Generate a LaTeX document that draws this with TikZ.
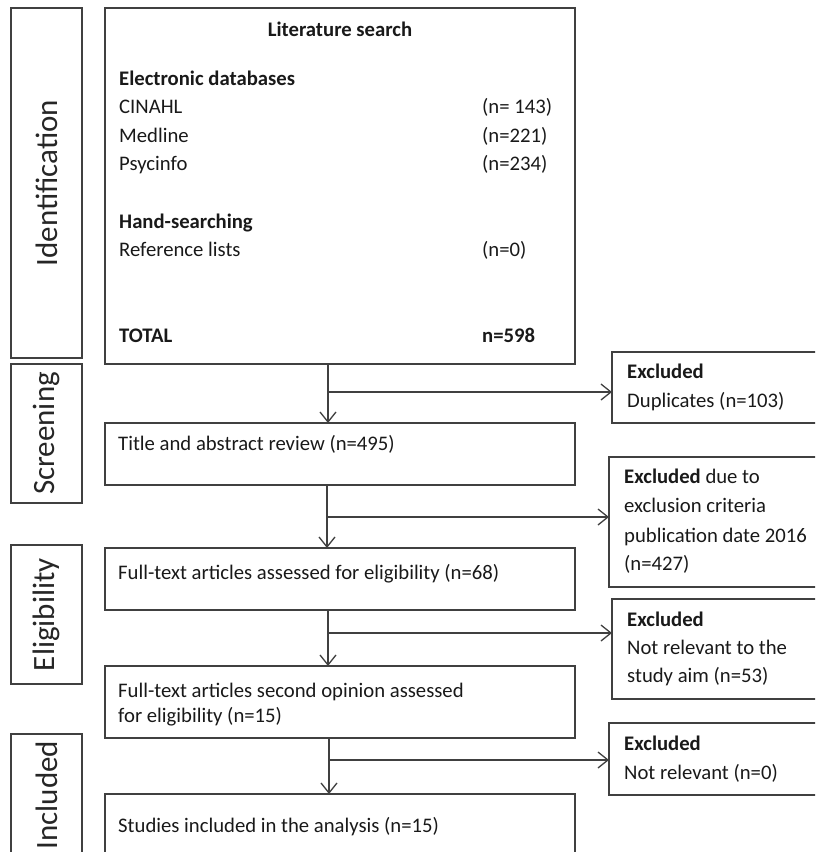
\documentclass[tikz,border=0pt]{standalone}
\usepackage{fontspec}
\setmainfont{Carlito}
\usetikzlibrary{arrows.meta}
\begin{document}
\begin{tikzpicture}[x=1pt,y=-1pt,
  box/.style={draw=black!75, line width=1.3pt, rectangle, inner sep=0pt, outer sep=0pt, anchor=north west},
  sidelabel/.style={rotate=90, inner sep=0pt, font=\fontsize{31}{36}\selectfont, text=black!85},
  txt/.style={anchor=base west, inner sep=0pt, font=\fontsize{20.7}{28}\selectfont, text=black!90},
  arr/.style={draw=black!75, line width=1.3pt, -{Straight Barb[length=10pt,width=16pt,line width=1.3pt]}}]
\useasboundingbox (0,0) rectangle (815,852);
\clip (0,0) rectangle (815,852);
% side boxes
\node[box, minimum width=71pt, minimum height=350pt] (ident) at (11,8) {};
\node[box, minimum width=71pt, minimum height=139pt] (screen) at (11,364) {};
\node[box, minimum width=71pt, minimum height=139pt] (elig) at (11,545) {};
\node[box, minimum width=71pt, minimum height=140pt] (incl) at (11,734) {};
\node[sidelabel] (identl) at (ident.center) {Identification};
\node[sidelabel] (screenl) at (screen.center) {Screening};
\node[sidelabel] (eligl) at (elig.center) {Eligibility};
\node[sidelabel] (incll) at (46.5,795) {Included};
% main boxes
\node[box, minimum width=470pt, minimum height=356pt] (lit) at (105,8) {};
\node[box, minimum width=470pt, minimum height=62pt] (title) at (105,423) {};
\node[box, minimum width=470pt, minimum height=62pt] (full) at (105,548) {};
\node[box, minimum width=470pt, minimum height=72pt] (second) at (105,666) {};
\node[box, minimum width=470pt, minimum height=80pt] (studies) at (105,794) {};
% excluded boxes
\node[box, minimum width=220pt, minimum height=71pt] (ex1) at (612,352) {};
\node[box, minimum width=220pt, minimum height=130pt] (ex2) at (609,457) {};
\node[box, minimum width=220pt, minimum height=100pt] (ex3) at (612,599) {};
\node[box, minimum width=220pt, minimum height=72pt] (ex4) at (609,723) {};
% literature text
\node[txt, anchor=base] (t0) at (340,36) {\textbf{Literature search}};
\node[txt] (t1) at (119,85) {\textbf{Electronic databases}};
\node[txt] (t2) at (119,113) {CINAHL};
\node[txt] (n2) at (482,113) {(n= 143)};
\node[txt] (t3) at (119,142) {Medline};
\node[txt] (n3) at (482,142) {(n=221)};
\node[txt] (t4) at (119,170) {Psycinfo};
\node[txt] (n4) at (482,170) {(n=234)};
\node[txt] (t5) at (119,228) {\textbf{Hand-searching}};
\node[txt] (t6) at (119,256) {Reference lists};
\node[txt] (n6) at (482,256) {(n=0)};
\node[txt] (t7) at (119,342) {\textbf{TOTAL}};
\node[txt] (n7) at (482,342) {\textbf{n=598}};
% main texts
\node[txt] (tt) at (118,450) {Title and abstract review (n=495)};
\node[txt] (tf) at (118,579) {Full-text articles assessed for eligibility (n=68)};
\node[txt] (ts1) at (118,697) {Full-text articles second opinion assessed};
\node[txt] (ts2) at (118,722) {for eligibility (n=15)};
\node[txt] (tst) at (118,832) {Studies included in the analysis (n=15)};
% excluded texts
\node[txt] (e1a) at (627,378) {\textbf{Excluded}};
\node[txt] (e1b) at (627,407) {Duplicates (n=103)};
\node[txt] (e2a) at (624,483) {\textbf{Excluded} due to};
\node[txt] (e2b) at (624,512) {exclusion criteria};
\node[txt] (e2c) at (624,542) {publication date 2016};
\node[txt] (e2d) at (624,570) {(n=427)};
\node[txt] (e3a) at (627,626) {\textbf{Excluded}};
\node[txt] (e3b) at (627,654) {Not relevant to the};
\node[txt] (e3c) at (627,682) {study aim (n=53)};
\node[txt] (e4a) at (624,750) {\textbf{Excluded}};
\node[txt] (e4b) at (624,779) {Not relevant (n=0)};
% connectors
\coordinate (c1) at (328,392);
\coordinate (c2) at (327,517);
\coordinate (c3) at (328,633);
\coordinate (c4) at (329,760);
\draw[arr] (lit.south -| c1) -- (title.north -| c1);
\draw[arr] (c1) -- (c1 -| ex1.west);
\draw[arr] (title.south -| c2) -- (full.north -| c2);
\draw[arr] (c2) -- (c2 -| ex2.west);
\draw[arr] (full.south -| c3) -- (second.north -| c3);
\draw[arr] (c3) -- (c3 -| ex3.west);
\draw[arr] (second.south -| c4) -- (studies.north -| c4);
\draw[arr] (c4) -- (c4 -| ex4.west);
\end{tikzpicture}
\end{document}
